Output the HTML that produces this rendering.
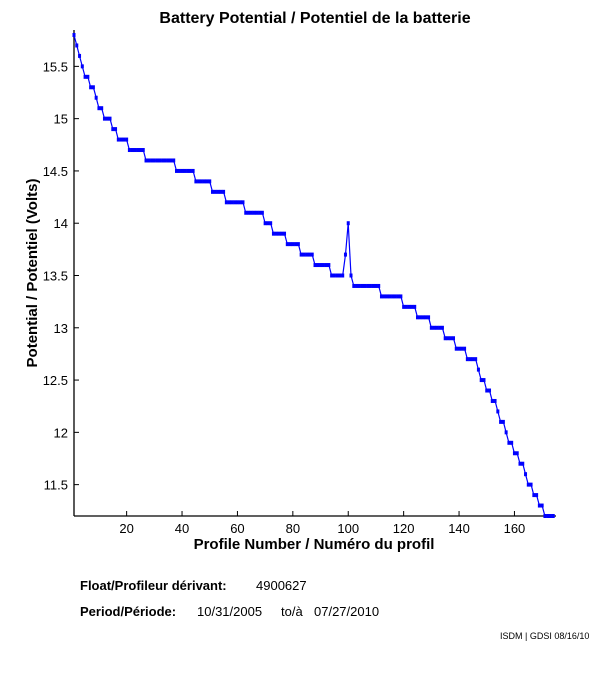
<!DOCTYPE html>
<html><head><meta charset="utf-8"><style>
body{margin:0;background:#fff;width:611px;height:675px;overflow:hidden;font-family:"Liberation Sans",sans-serif}
svg text{font-family:"Liberation Sans",sans-serif}
</style></head><body>
<svg id="chart" width="611" height="675" xmlns="http://www.w3.org/2000/svg">
<text x="315" y="23" font-size="16" font-weight="bold" text-anchor="middle">Battery Potential / Potentiel de la batterie</text>
<text transform="translate(37,273) rotate(-90)" font-size="15" font-weight="bold" text-anchor="middle">Potential / Potentiel (Volts)</text>
<text x="314" y="549" font-size="15" font-weight="bold" text-anchor="middle">Profile Number / Numéro du profil</text>
<g id="axes"></g>
<g id="series"></g>
<text x="80" y="590" font-size="13"><tspan font-weight="bold">Float/Profileur dérivant:</tspan><tspan x="256">4900627</tspan></text>
<text x="80" y="616" font-size="13"><tspan font-weight="bold">Period/Période:</tspan><tspan x="197">10/31/2005</tspan><tspan x="281">to/à</tspan><tspan x="314">07/27/2010</tspan></text>
<text x="500" y="639" font-size="9">ISDM | GDSI 08/16/10</text>
</svg>
<script>
const voltages=[15.8,15.7,15.6,15.5,15.4,15.4,15.3,15.3,15.2,15.1,15.1,15.0,15.0,15.0,14.9,14.9,14.8,14.8,14.8,14.8,
14.7,14.7,14.7,14.7,14.7,14.7,14.6,14.6,14.6,14.6,14.6,14.6,14.6,14.6,14.6,14.6,14.6,
14.5,14.5,14.5,14.5,14.5,14.5,14.5,14.4,14.4,14.4,14.4,14.4,14.4,14.3,14.3,14.3,14.3,14.3,
14.2,14.2,14.2,14.2,14.2,14.2,14.2,14.1,14.1,14.1,14.1,14.1,14.1,14.1,14.0,14.0,14.0,
13.9,13.9,13.9,13.9,13.9,13.8,13.8,13.8,13.8,13.8,13.7,13.7,13.7,13.7,13.7,13.6,13.6,13.6,13.6,13.6,13.6,
13.5,13.5,13.5,13.5,13.5,13.7,14.0,13.5,13.4,13.4,13.4,13.4,13.4,13.4,13.4,13.4,13.4,13.4,
13.3,13.3,13.3,13.3,13.3,13.3,13.3,13.3,13.2,13.2,13.2,13.2,13.2,13.1,13.1,13.1,13.1,13.1,
13.0,13.0,13.0,13.0,13.0,12.9,12.9,12.9,12.9,12.8,12.8,12.8,12.8,12.7,12.7,12.7,12.7,
12.6,12.5,12.5,12.4,12.4,12.3,12.3,12.2,12.1,12.1,12.0,11.9,11.9,11.8,11.8,11.7,11.7,11.6,11.5,11.5,
11.4,11.4,11.3,11.3,11.2,11.2,11.2,11.2];
const xTicks=[20,40,60,80,100,120,140,160];
const yTicks=[11.5,12,12.5,13,13.5,14,14.5,15,15.5];
const xDomain=[1,175], yDomain=[11.2,15.8];
const L=74,R=556,T=35,B=516;
const sx=v=>L+(v-xDomain[0])/(xDomain[1]-xDomain[0])*(R-L);
const sy=v=>B-(v-yDomain[0])/(yDomain[1]-yDomain[0])*(B-T);
const NS="http://www.w3.org/2000/svg";
function mk(tag,attrs,parent){const e=document.createElementNS(NS,tag);for(const k in attrs)e.setAttribute(k,attrs[k]);parent.appendChild(e);return e;}
const ax=document.getElementById('axes');
let e=mk('line',{x1:L,y1:B,x2:R,y2:B,stroke:'#000','stroke-width':1.3},ax);


e=mk('line',{x1:L,y1:T-5,x2:L,y2:B,stroke:'#000','stroke-width':1.3},ax);


xTicks.forEach(t=>{const x=sx(t);
 let l=mk('line',{x1:x,y1:B,x2:x,y2:B-5,stroke:'#000'},ax);
 
 
 let tx=mk('text',{x:x,y:B+17,'font-size':13,'text-anchor':'middle'},ax);tx.textContent=t;
 
 });
yTicks.forEach(t=>{const y=sy(t);
 let l=mk('line',{x1:L,y1:y,x2:L+5,y2:y,stroke:'#000'},ax);
 
 
 let tx=mk('text',{x:L-6,y:y+5,'font-size':13,'text-anchor':'end'},ax);tx.textContent=String(t);
 
 });
const sg=document.getElementById('series');
const pts=voltages.map((v,i)=>sx(i+1).toFixed(1)+','+sy(v).toFixed(1)).join(' ');
e=mk('polyline',{points:pts,fill:'none',stroke:'#0000ff','stroke-width':1.2},sg);


voltages.forEach((v,i)=>{const c=mk('rect',{x:sx(i+1)-1.5,y:sy(v)-2,width:3,height:4,fill:'#0000ff'},sg);
 
 });
</script>
</body></html>
